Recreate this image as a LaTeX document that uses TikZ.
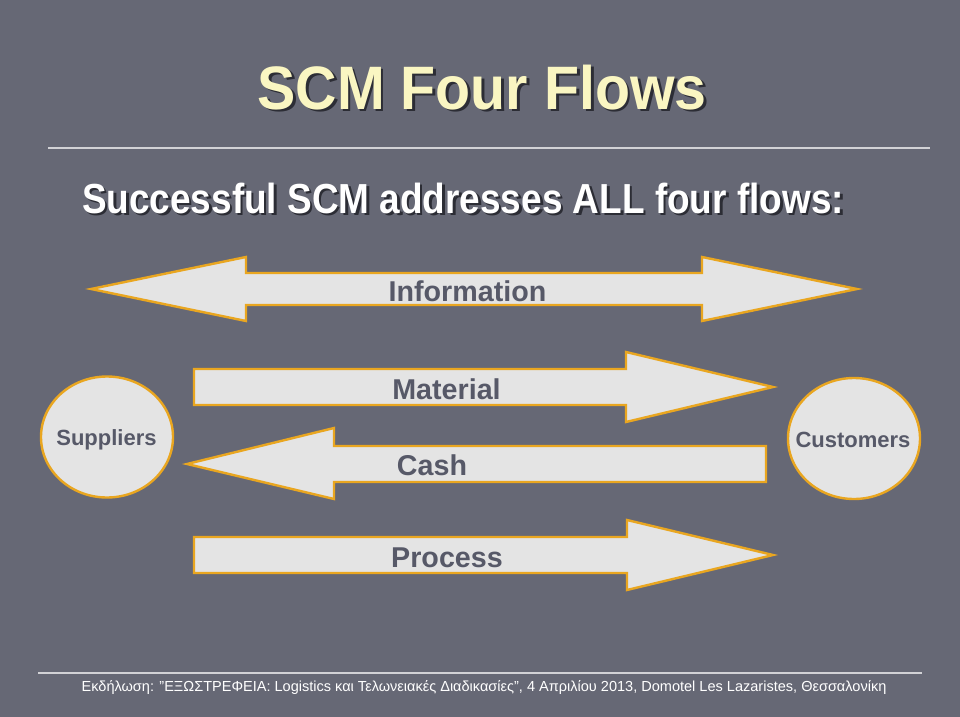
\documentclass[tikz,border=0pt]{standalone}
\usepackage{fontspec}
\setmainfont{Liberation Sans}
\usepackage{graphicx}
\definecolor{slidebg}{HTML}{666875}
\definecolor{flowfill}{HTML}{E4E4E4}
\definecolor{flowline}{HTML}{E9A620}
\definecolor{labeltext}{HTML}{575968}
\definecolor{titletext}{HTML}{FAF6C2}
\definecolor{shadowcol}{HTML}{2C2D35}
\definecolor{rulecol}{HTML}{D2D2D6}

% text with a dropped shadow, kept in one box
\newcommand{\shadowtext}[3]{\makebox[0pt][l]{\hspace{#1}\raisebox{-#1}{\color{shadowcol}#2}}{\color{#3}#2}}

\tikzset{every picture/.style={line width=0.75pt}}
\tikzset{
  flowshape/.style={draw=flowline, fill=flowfill, line width=1.8pt, line join=miter},
  flowlabel/.style={anchor=base, inner sep=0pt, text=labeltext, font=\bfseries\fontsize{21.5}{24}\selectfont},
  partylabel/.style={anchor=base, inner sep=0pt, text=labeltext, font=\bfseries\fontsize{16.5}{19}\selectfont},
}

\begin{document}
\begin{tikzpicture}[x=0.75pt,y=0.75pt,yscale=-1,xscale=1]
%Shape: Rectangle [id:slide background]
\fill [slidebg] (0,0) rectangle (960,717) ;
\useasboundingbox (0,0) rectangle (960,717) ;
% Text Node
\draw (482,109) node (title) [anchor=base][inner sep=0pt] [font=\bfseries\fontsize{46}{50}\selectfont] {\shadowtext{2.2pt}{\scalebox{0.935}[1]{SCM Four Flows}}{titletext}};
%Straight Lines [id:title rule]
\draw [rulecol, line width=1.1pt] (48,148) -- (930,148) ;
% Text Node
\draw (463,213) node (subtitle) [anchor=base][inner sep=0pt] [font=\bfseries\fontsize{31.5}{35}\selectfont] {\shadowtext{1.9pt}{\scalebox{0.88}[1]{Successful SCM addresses ALL four flows:}}{white}};
%Shape: Double Arrow [id:information]
\draw [flowshape] (91,289) -- (246,257) -- (246,273) -- (702,273) -- (702,257) -- (857,289) -- (702,321) -- (702,305) -- (246,305) -- (246,321) -- cycle ;
%Shape: Right Arrow [id:material]
\draw [flowshape] (194,369) -- (626,369) -- (626,352) -- (773,387) -- (626,422) -- (626,405) -- (194,405) -- cycle ;
%Shape: Left Arrow [id:cash]
\draw [flowshape] (766,446) -- (334,446) -- (334,428) -- (187,464) -- (334,499) -- (334,482) -- (766,482) -- cycle ;
%Shape: Right Arrow [id:process]
\draw [flowshape] (194,537) -- (627,537) -- (627,520) -- (773,555) -- (627,590) -- (627,573) -- (194,573) -- cycle ;
%Shape: Ellipse [id:suppliers]
\draw [flowshape] (107,437) ellipse (66 and 60.5) ;
%Shape: Ellipse [id:customers]
\draw [flowshape] (854,438.5) ellipse (66 and 60.5) ;
% Text Node
\draw (467.5,301) node (information) [flowlabel] {Information};
% Text Node
\draw (446.5,399) node (material) [flowlabel] {Material};
% Text Node
\draw (432,475) node (cash) [flowlabel] {Cash};
% Text Node
\draw (447,567) node (process) [flowlabel] {Process};
% Text Node
\draw (106.5,445) node (suppliers) [partylabel] {Suppliers};
% Text Node
\draw (853,447) node (customers) [partylabel] {Customers};
%Straight Lines [id:footer rule]
\draw [rulecol, line width=1pt] (38,673) -- (922,673) ;
% Text Node
\draw (484,691.5) node (footer) [anchor=base][inner sep=0pt] [text=white,font=\fontsize{10.9}{13}\selectfont] {Εκδήλωση: "ΕΞΩΣΤΡΕΦΕΙΑ: Logistics και Τελωνειακές Διαδικασίες", 4 Απριλίου 2013, Domotel Les Lazaristes, Θεσσαλονίκη};
\end{tikzpicture}
\end{document}
